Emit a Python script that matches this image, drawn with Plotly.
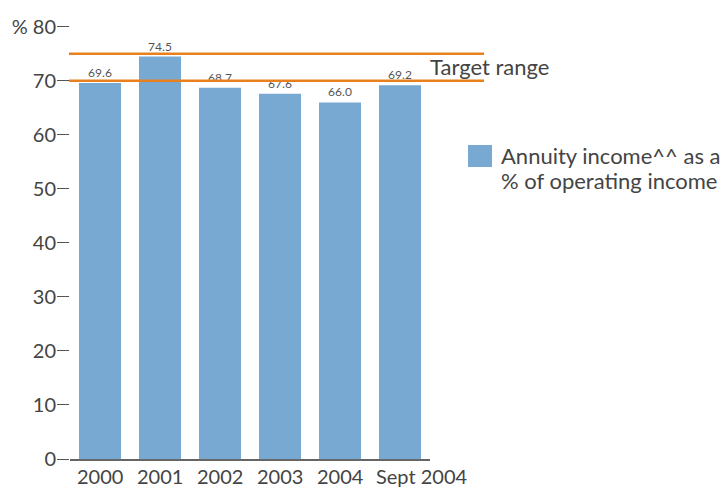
import plotly.graph_objects as go

# Annuity income as a share of operating income
categories = ["2000", "2001", "2002", "2003", "2004", "Sept 2004"]
values = [69.6, 74.5, 68.7, 67.6, 66.0, 69.2]
target_low = 70
target_high = 75
y_ticks = [0, 10, 20, 30, 40, 50, 60, 70, 80]
y_tick_labels = ["0", "10", "20", "30", "40", "50", "60", "70", "% 80"]
legend_lines = ["Annuity income^^ as a", "% of operating income"]

BAR = "#78A9D3"
ORANGE = "#E8801E"
TEXT = "#444444"
FONT = "Lato"

# plot area geometry (pixels)
L, R, T, B = 70, 294, 16, 31
W, H = 724, 490
PW, PH = W - L - R, H - T - B


def px_x(px):
    return (px - L) / PW


def px_y(py):
    return (H - B - py) / PH


fig = go.Figure()
fig.add_trace(go.Bar(
    x=categories,
    y=values,
    marker=dict(color=BAR, line=dict(width=0)),
    text=[f"{v:.1f}" for v in values],
    textposition="outside",
    textfont=dict(family=FONT, size=12, color="#555555"),
    cliponaxis=False,
    showlegend=False,
))

# Target range lines, extending past the bars
for yv in (target_low, target_high):
    fig.add_shape(type="line", xref="paper", yref="y",
                  x0=px_x(69), x1=px_x(484), y0=yv, y1=yv,
                  line=dict(color=ORANGE, width=2.5), layer="above")

fig.add_annotation(xref="paper", yref="y", x=px_x(428), y=72.6,
                   text="Target range", showarrow=False, xanchor="left", yanchor="middle",
                   font=dict(family=FONT, size=22, color=TEXT))

# Category labels under the bars
label_shift = [0, 0, 0, 0, 0, 22]
for i, (cat, dx) in enumerate(zip(categories, label_shift)):
    fig.add_annotation(xref="x", yref="paper", x=i, y=px_y(476), xshift=dx,
                       text=cat, showarrow=False, xanchor="center", yanchor="middle",
                       font=dict(family=FONT, size=20, color=TEXT))

# Legend swatch and label
fig.add_shape(type="rect", xref="paper", yref="paper",
              x0=px_x(468), x1=px_x(492), y0=px_y(167), y1=px_y(145),
              fillcolor=BAR, line=dict(width=0))
for line, py in zip(legend_lines, (155, 180)):
    fig.add_annotation(xref="paper", yref="paper", x=px_x(499), y=px_y(py),
                       text=line, showarrow=False, xanchor="left", yanchor="middle",
                       font=dict(family=FONT, size=22, color=TEXT))

fig.update_layout(
    width=W, height=H,
    margin=dict(l=L, r=R, t=T, b=B, autoexpand=False),
    paper_bgcolor="white", plot_bgcolor="white",
    bargap=0.3,
    font=dict(family=FONT, color=TEXT),
    xaxis=dict(
        type="category",
        range=[-0.5, 5.5],
        showgrid=False, zeroline=False,
        showline=True, linecolor="#666666", linewidth=1.5,
        ticks="", showticklabels=False, automargin=False,
    ),
    yaxis=dict(
        range=[0, 82],
        tickvals=y_ticks, ticktext=y_tick_labels,
        showgrid=False, zeroline=False, showline=False,
        ticks="outside", ticklen=12, tickwidth=1.3, tickcolor="#555555",
        ticklabelstandoff=-3, automargin=False,
        tickfont=dict(family=FONT, size=20, color=TEXT),
    ),
)

fig.write_html("out.html")
